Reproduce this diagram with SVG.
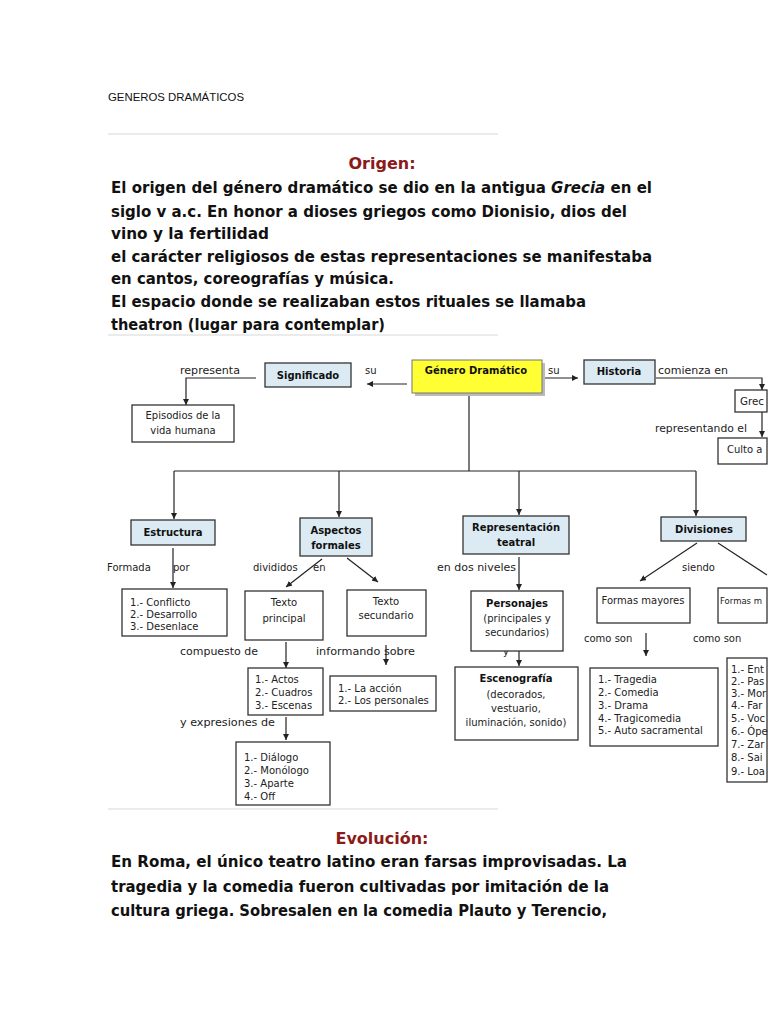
<svg xmlns="http://www.w3.org/2000/svg" width="768" height="1024" viewBox="0 0 768 1024">
<style>
.doc{font-family:"DejaVu Sans","Liberation Sans",sans-serif;font-weight:bold;font-size:15px;fill:#111}
.head{font-family:"DejaVu Sans","Liberation Sans",sans-serif;font-weight:bold;font-size:16px;fill:#8b1a1a}
.title{font-family:"Liberation Sans","DejaVu Sans",sans-serif;font-size:11px;fill:#111}
.rule{stroke:#d8d8d8;stroke-width:1.2}
.box{fill:#fff;stroke:#333;stroke-width:1.3}
.blue{fill:#dcebf3;stroke:#333;stroke-width:1.3}
.yellow{fill:#ffff33;stroke:#777;stroke-width:1}
.t{font-family:"DejaVu Sans","Liberation Sans",sans-serif;font-size:10px;fill:#222}
.tb{font-family:"DejaVu Sans","Liberation Sans",sans-serif;font-size:10px;font-weight:bold;fill:#111}
.c{text-anchor:middle}
.con line,.con polyline{stroke:#222;stroke-width:1.2;fill:none}
</style>
<defs>
<marker id="ah" viewBox="0 0 10 10" refX="10" refY="5" markerWidth="6" markerHeight="6" markerUnits="userSpaceOnUse" orient="auto">
<path d="M0,0 L10,5 L0,10 z" fill="#222"/>
</marker>
</defs>
<rect width="768" height="1024" fill="#fff"/>

<text class="title" x="108" y="101" textLength="136" lengthAdjust="spacingAndGlyphs">GENEROS DRAMÁTICOS</text>
<line class="rule" x1="108" y1="134" x2="498" y2="134"/>

<text class="head" x="382" y="169" text-anchor="middle">Origen:</text>
<text class="doc" x="111" y="193" textLength="541" lengthAdjust="spacingAndGlyphs">El origen del género dramático se dio en la antigua <tspan font-style="italic">Grecia</tspan> en el</text>
<text class="doc" x="111" y="217" textLength="516" lengthAdjust="spacingAndGlyphs">siglo v a.c. En honor a dioses griegos como Dionisio, dios del</text>
<text class="doc" x="111" y="239" textLength="158" lengthAdjust="spacingAndGlyphs">vino y la fertilidad</text>
<text class="doc" x="111" y="262" textLength="541" lengthAdjust="spacingAndGlyphs">el carácter religiosos de estas representaciones se manifestaba</text>
<text class="doc" x="111" y="284" textLength="283" lengthAdjust="spacingAndGlyphs">en cantos, coreografías y música.</text>
<text class="doc" x="111" y="307" textLength="475" lengthAdjust="spacingAndGlyphs">El espacio donde se realizaban estos rituales se llamaba</text>
<text class="doc" x="111" y="330" textLength="274" lengthAdjust="spacingAndGlyphs">theatron (lugar para contemplar)</text>
<line class="rule" x1="108" y1="335" x2="498" y2="335"/>

<g class="con" id="connectors">
<line x1="407" y1="384" x2="367" y2="384" marker-end="url(#ah)"/>
<line x1="545" y1="378" x2="578" y2="378" marker-end="url(#ah)"/>
<polyline points="256,378 186,378 186,405" marker-end="url(#ah)"/>
<polyline points="656,378 762,378 762,390" marker-end="url(#ah)"/>
<line x1="762" y1="412" x2="762" y2="437" marker-end="url(#ah)"/>
<line x1="469" y1="394" x2="469" y2="471"/>
<line x1="174" y1="471" x2="696" y2="471"/>
<line x1="174" y1="471" x2="174" y2="519" marker-end="url(#ah)"/>
<line x1="339" y1="471" x2="339" y2="517" marker-end="url(#ah)"/>
<line x1="519" y1="471" x2="519" y2="515" marker-end="url(#ah)"/>
<line x1="696" y1="471" x2="696" y2="516" marker-end="url(#ah)"/>
<line x1="173" y1="548" x2="173" y2="588" marker-end="url(#ah)"/>
<line x1="322" y1="559" x2="286" y2="587" marker-end="url(#ah)"/>
<line x1="347" y1="558" x2="378" y2="582" marker-end="url(#ah)"/>
<line x1="519" y1="557" x2="519" y2="590" marker-end="url(#ah)"/>
<line x1="519" y1="651" x2="519" y2="666" marker-end="url(#ah)"/>
<line x1="697" y1="543" x2="640" y2="581" marker-end="url(#ah)"/>
<line x1="718" y1="543" x2="767" y2="575"/>
<line x1="646" y1="633" x2="646" y2="656" marker-end="url(#ah)"/>
<line x1="286" y1="642" x2="286" y2="668" marker-end="url(#ah)"/>
<line x1="386" y1="645" x2="386" y2="665" marker-end="url(#ah)"/>
<line x1="286" y1="717" x2="286" y2="740" marker-end="url(#ah)"/>
</g>

<g id="labels">
<text class="t" x="365" y="374">su</text>
<text class="t" x="548" y="374">su</text>
<text class="t" x="180" y="374" textLength="60" lengthAdjust="spacingAndGlyphs">representa</text>
<text class="t" x="658" y="374" textLength="70" lengthAdjust="spacingAndGlyphs">comienza en</text>
<text class="t" x="655" y="432" textLength="92" lengthAdjust="spacingAndGlyphs">representando el</text>
<text class="t" x="107" y="571">Formada</text>
<text class="t" x="173" y="571">por</text>
<text class="t" x="253" y="571">divididos</text>
<text class="t" x="313" y="571">en</text>
<text class="t" x="437" y="571" textLength="79" lengthAdjust="spacingAndGlyphs">en dos niveles</text>
<text class="t" x="682" y="571">siendo</text>
<text class="t" x="180" y="655" textLength="78" lengthAdjust="spacingAndGlyphs">compuesto de</text>
<text class="t" x="316" y="655" textLength="99" lengthAdjust="spacingAndGlyphs">informando sobre</text>
<text class="t" x="503" y="655">y</text>
<text class="t" x="180" y="726" textLength="95" lengthAdjust="spacingAndGlyphs">y expresiones de</text>
<text class="t" x="584" y="642">como son</text>
<text class="t" x="693" y="642">como son</text>
</g>

<g id="n-genero">
<rect x="415" y="363" width="130" height="33" fill="#bbb"/>
<rect class="yellow" x="412" y="360" width="130" height="33"/>
<text class="tb c" x="476" y="374">Género Dramático</text>
</g>
<g id="n-significado">
<rect class="blue" x="265" y="363" width="86" height="24"/>
<text class="tb c" x="308" y="379">Significado</text>
</g>
<g id="n-episodios">
<rect class="box" x="132" y="405" width="102" height="37"/>
<text class="t c" x="183" y="419">Episodios de la</text>
<text class="t c" x="183" y="434">vida humana</text>
</g>
<g id="n-historia">
<rect class="blue" x="584" y="360" width="71" height="24"/>
<text class="tb c" x="619" y="375">Historia</text>
</g>
<g id="n-grecia">
<rect class="box" x="735" y="390" width="32" height="22"/>
<text class="t" x="740" y="405" textLength="24" lengthAdjust="spacingAndGlyphs">Grec</text>
</g>
<g id="n-culto">
<rect class="box" x="718" y="438" width="49" height="26"/>
<text class="t" x="727" y="453">Culto a</text>
</g>

<g id="n-estructura">
<rect class="blue" x="131" y="520" width="84" height="25"/>
<text class="tb c" x="173" y="536">Estructura</text>
</g>
<g id="n-aspectos">
<rect class="blue" x="300" y="518" width="72" height="38"/>
<text class="tb c" x="336" y="534">Aspectos</text>
<text class="tb c" x="336" y="549">formales</text>
</g>
<g id="n-representacion">
<rect class="blue" x="463" y="516" width="106" height="38"/>
<text class="tb c" x="516" y="531">Representación</text>
<text class="tb c" x="516" y="546">teatral</text>
</g>
<g id="n-divisiones">
<rect class="blue" x="661" y="517" width="85" height="24"/>
<text class="tb c" x="704" y="533">Divisiones</text>
</g>

<g id="n-conflicto">
<rect class="box" x="122" y="589" width="105" height="47"/>
<text class="t" x="130" y="606">1.- Conflicto</text>
<text class="t" x="130" y="618">2.- Desarrollo</text>
<text class="t" x="130" y="630">3.- Desenlace</text>
</g>
<g id="n-textoprincipal">
<rect class="box" x="245" y="591" width="78" height="49"/>
<text class="t c" x="284" y="606">Texto</text>
<text class="t c" x="284" y="622">principal</text>
</g>
<g id="n-textosecundario">
<rect class="box" x="347" y="590" width="79" height="46"/>
<text class="t c" x="386" y="605">Texto</text>
<text class="t c" x="386" y="619">secundario</text>
</g>
<g id="n-personajes">
<rect class="box" x="471" y="591" width="92" height="60"/>
<text class="tb c" x="517" y="607">Personajes</text>
<text class="t c" x="517" y="622">(principales y</text>
<text class="t c" x="517" y="636">secundarios)</text>
</g>
<g id="n-escenografia">
<rect class="box" x="455" y="667" width="123" height="73"/>
<text class="tb c" x="516" y="682">Escenografía</text>
<text class="t c" x="516" y="698">(decorados,</text>
<text class="t c" x="516" y="712">vestuario,</text>
<text class="t c" x="516" y="726">iluminación, sonido)</text>
</g>
<g id="n-mayores">
<rect class="box" x="597" y="588" width="93" height="35"/>
<text class="t c" x="643" y="604">Formas mayores</text>
</g>
<g id="n-menores">
<rect class="box" x="718" y="588" width="49" height="35"/>
<text class="t" x="720" y="604" style="font-size:8.5px">Formas m</text>
</g>
<g id="n-tragedia">
<rect class="box" x="590" y="668" width="128" height="78"/>
<text class="t" x="598" y="683">1.- Tragedia</text>
<text class="t" x="598" y="696">2.- Comedia</text>
<text class="t" x="598" y="709">3.- Drama</text>
<text class="t" x="598" y="722">4.- Tragicomedia</text>
<text class="t" x="598" y="734">5.- Auto sacramental</text>
</g>
<g id="n-menoreslista">
<rect class="box" x="727" y="658" width="40" height="124"/>
<text class="t" x="731" y="673">1.- Ent</text>
<text class="t" x="731" y="685">2.- Pas</text>
<text class="t" x="731" y="697">3.- Mor</text>
<text class="t" x="731" y="709">4.- Far</text>
<text class="t" x="731" y="722">5.- Voc</text>
<text class="t" x="731" y="735">6.- Ópe</text>
<text class="t" x="731" y="748">7.- Zar</text>
<text class="t" x="731" y="761">8.- Sai</text>
<text class="t" x="731" y="775">9.- Loa</text>
</g>
<g id="n-actos">
<rect class="box" x="248" y="668" width="75" height="47"/>
<text class="t" x="255" y="683">1.- Actos</text>
<text class="t" x="255" y="696">2.- Cuadros</text>
<text class="t" x="255" y="709">3.- Escenas</text>
</g>
<g id="n-accion">
<rect class="box" x="330" y="676" width="106" height="35"/>
<text class="t" x="338" y="692">1.- La acción</text>
<text class="t" x="338" y="704">2.- Los personales</text>
</g>
<g id="n-dialogo">
<rect class="box" x="236" y="742" width="94" height="63"/>
<text class="t" x="244" y="761">1.- Diálogo</text>
<text class="t" x="244" y="774">2.- Monólogo</text>
<text class="t" x="244" y="787">3.- Aparte</text>
<text class="t" x="244" y="800">4.- Off</text>
</g>

<line class="rule" x1="108" y1="809" x2="498" y2="809"/>

<text class="head" x="382" y="844" text-anchor="middle">Evolución:</text>
<text class="doc" x="111" y="867" textLength="516" lengthAdjust="spacingAndGlyphs">En Roma, el único teatro latino eran farsas improvisadas. La</text>
<text class="doc" x="111" y="892" textLength="498" lengthAdjust="spacingAndGlyphs">tragedia y la comedia fueron cultivadas por imitación de la</text>
<text class="doc" x="111" y="916" textLength="496" lengthAdjust="spacingAndGlyphs">cultura griega. Sobresalen en la comedia Plauto y Terencio,</text>
</svg>
